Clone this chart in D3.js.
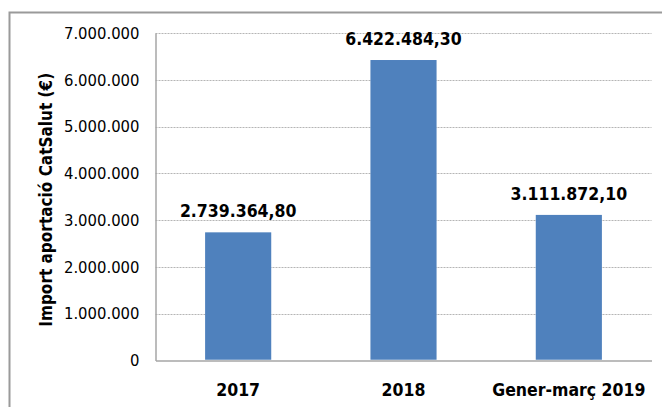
<!DOCTYPE html>
<html>
<head>
<meta charset="utf-8">
<script src="https://cdn.jsdelivr.net/npm/d3@7"></script>
<style>
  html, body { margin: 0; padding: 0; background: #fff; }
  svg { display: block; }
</style>
</head>
<body>
<svg id="chart" width="662" height="407"></svg>
<script>
const categories = ["2017", "2018", "Gener-març 2019"];
const values = [2739364.80, 6422484.30, 3111872.10];
const valueLabels = ["2.739.364,80", "6.422.484,30", "3.111.872,10"];
const yTicks = [0, 1000000, 2000000, 3000000, 4000000, 5000000, 6000000, 7000000];
const yTickLabels = ["0", "1.000.000", "2.000.000", "3.000.000", "4.000.000", "5.000.000", "6.000.000", "7.000.000"];
const yTitle = "Import aportació CatSalut (€)";

(function () {
const svg = d3.select("#chart");
const cond = "'DejaVu Sans Condensed', 'DejaVu Sans', sans-serif";

// outer frame
svg.append("path")
  .attr("d", "M9.5,407 V12.5 H662")
  .attr("fill", "none").attr("stroke", "#9a9a9a").attr("stroke-width", 2);

const pLeft = 155.5, pRight = 651.5, pTop = 33, pBottom = 360.5;

const x = d3.scaleBand().domain(categories).range([pLeft, pRight]).paddingInner(0.6).paddingOuter(0.3);
const y = d3.scaleLinear().domain([0, 7000000]).range([pBottom, pTop]);

// gridlines
svg.append("g").selectAll("line").data(yTicks.filter(d => d > 0)).join("line")
  .attr("x1", pLeft).attr("x2", pRight)
  .attr("y1", d => Math.round(y(d)) + 0.5).attr("y2", d => Math.round(y(d)) + 0.5)
  .attr("stroke", "#b5b5b5").attr("stroke-width", 1).attr("stroke-dasharray", "2,1");

// y axis
const yAxis = d3.axisLeft(y).tickValues(yTicks).tickSize(0).tickPadding(16)
  .tickFormat((d, i) => yTickLabels[i]);
const gy = svg.append("g").attr("transform", `translate(${pLeft},0)`).call(yAxis);
gy.select(".domain").attr("stroke", "#a6a6a6").attr("stroke-width", 1.5);
gy.selectAll("text").attr("font-family", cond).attr("font-size", 16.5).attr("fill", "#000");

// x axis
const xAxis = d3.axisBottom(x).tickSize(0).tickPadding(23);
const gx = svg.append("g").attr("transform", `translate(0,${pBottom})`).call(xAxis);
gx.select(".domain").attr("stroke", "#a6a6a6").attr("stroke-width", 1.5);
gx.selectAll("text").attr("font-family", cond).attr("font-size", 17.5).attr("font-weight", "bold").attr("fill", "#000");

// bars
svg.append("g").selectAll("rect").data(values).join("rect")
  .attr("x", (d, i) => x(categories[i]))
  .attr("width", x.bandwidth())
  .attr("y", d => y(d))
  .attr("height", d => pBottom - 0.75 - y(d))
  .attr("fill", "#4F81BD");

// value labels
svg.append("g").selectAll("text").data(values).join("text")
  .attr("x", (d, i) => x(categories[i]) + x.bandwidth() / 2)
  .attr("y", d => y(d) - 15)
  .attr("text-anchor", "middle")
  .attr("font-family", cond).attr("font-size", 17.5).attr("font-weight", "bold").attr("fill", "#000")
  .text((d, i) => valueLabels[i]);

// y title
svg.append("text")
  .attr("transform", `translate(52,${(pTop + pBottom) / 2 + 3}) rotate(-90)`)
  .attr("text-anchor", "middle")
  .attr("font-family", cond).attr("font-size", 17).attr("font-weight", "bold").attr("fill", "#000")
  .text(yTitle);
})();
</script>
</body>
</html>
